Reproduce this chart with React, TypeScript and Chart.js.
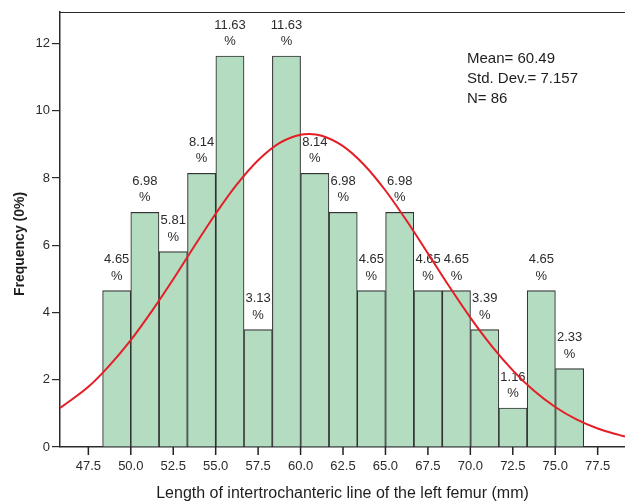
import React, { useEffect, useRef } from "react";
import { Chart, registerables } from "chart.js";

Chart.register(...registerables);

// Histogram bins (bin centres in mm) and their percentage heights
const binCenters = [49.17, 50.83, 52.5, 54.17, 55.84, 57.5, 59.17, 60.84, 62.51, 64.17, 65.84, 67.51, 69.18, 70.85, 72.51, 74.18, 75.85];
const binPercents = [4.65, 6.98, 5.81, 8.14, 11.63, 3.49, 11.63, 8.14, 6.98, 4.65, 6.98, 4.65, 4.65, 3.49, 1.16, 4.65, 2.33];
const binLabels = ["4.65", "6.98", "5.81", "8.14", "11.63", "3.13", "11.63", "8.14", "6.98", "4.65", "6.98", "4.65", "4.65", "3.39", "1.16", "4.65", "2.33"];

// Normal curve points
const curveX = [45.83, 47.5, 48.75, 50, 51.25, 52.5, 53.75, 55, 56.25, 57.5, 58.75, 60, 60.5, 61.25, 62.5, 63.75, 65, 66.25, 67.5, 68.75, 70, 71.25, 72.5, 73.75, 75, 76.25, 77.5, 78.75, 79.11];
const curveY = [1.16, 1.79, 2.43, 3.18, 4.05, 4.99, 5.98, 6.94, 7.81, 8.53, 9.04, 9.29, 9.31, 9.26, 8.95, 8.39, 7.63, 6.73, 5.76, 4.78, 3.85, 3.01, 2.28, 1.67, 1.19, 0.82, 0.55, 0.36, 0.31];

const xTickValues = [47.5, 50, 52.5, 55, 57.5, 60, 62.5, 65, 67.5, 70, 72.5, 75, 77.5];
const yTickValues = [0, 2, 4, 6, 8, 10, 12];
const xMin = 45.83;
const xMax = 79.11;
const yMin = 0;
const yMax = 12.94;

const statsLines = ["Mean= 60.49", "Std. Dev.= 7.157", "N= 86"];
const xTitle = "Length of intertrochanteric line of the left femur (mm)";
const yTitle = "Frequency (0%)";

const FONT = '"Liberation Sans", Arial, Helvetica, sans-serif';
const INK = "#2b2b2b";

const annotatePlugin = {
  id: "annotate",
  afterDatasetDraw(chart: any, args: any) {
    if (args.index !== 0) return;
    const ctx = chart.ctx;
    const xs = chart.scales.x;
    const ys = chart.scales.y;
    ctx.save();
    ctx.font = `13px ${FONT}`;
    ctx.fillStyle = INK;
    ctx.textAlign = "center";
    ctx.textBaseline = "middle";
    binCenters.forEach((c, i) => {
      const px = xs.getPixelForValue(c);
      const py = ys.getPixelForValue(binPercents[i]);
      ctx.fillText(binLabels[i], px, py - 31);
      ctx.fillText("%", px, py - 14.5);
    });
    ctx.restore();
  },
  afterDraw(chart: any) {
    const ctx = chart.ctx;
    const area = chart.chartArea;
    const xs = chart.scales.x;
    ctx.save();
    // top frame line
    ctx.strokeStyle = INK;
    ctx.lineWidth = 1.2;
    ctx.beginPath();
    ctx.moveTo(area.left, area.top + 0.5);
    ctx.lineTo(area.right, area.top + 0.5);
    ctx.stroke();

    // x tick marks
    ctx.strokeStyle = "#222222";
    ctx.lineWidth = 1.5;
    ctx.beginPath();
    xTickValues.forEach((v) => {
      const px = xs.getPixelForValue(v);
      ctx.moveTo(px, area.bottom);
      ctx.lineTo(px, area.bottom + 8);
    });
    ctx.stroke();

    // stats box text
    ctx.fillStyle = "#1e1e1e";
    ctx.font = `15px ${FONT}`;
    ctx.textAlign = "left";
    ctx.textBaseline = "alphabetic";
    statsLines.forEach((t, i) => ctx.fillText(t, 467, 63 + i * 20));

    // x title
    ctx.font = `16px ${FONT}`;
    ctx.textAlign = "center";
    ctx.fillText(xTitle, (area.left + area.right) / 2, 498);

    // y title
    ctx.translate(24, 244);
    ctx.rotate(-Math.PI / 2);
    ctx.font = `bold 14px ${FONT}`;
    ctx.fillText(yTitle, 0, 0);
    ctx.restore();
  },
};

export default function App() {
  const canvasRef = useRef<HTMLCanvasElement | null>(null);

  useEffect(() => {
    document.body.style.margin = "0";
    const canvas = canvasRef.current;
    if (!canvas) return;
    const chart = new Chart(canvas, {
      type: "bar",
      data: {
        datasets: [
          {
            type: "bar",
            data: binCenters.map((c, i) => ({ x: c, y: binPercents[i] })),
            backgroundColor: "#b3dcc1",
            borderColor: "#333333",
            borderWidth: 1.1,
            barPercentage: 1,
            categoryPercentage: 1,
            order: 1,
          } as any,
          {
            type: "line",
            data: curveX.map((x, i) => ({ x, y: curveY[i] })),
            borderColor: "#e41e26",
            borderWidth: 2,
            pointRadius: 0,
            fill: false,
            tension: 0.4,
            cubicInterpolationMode: "monotone",
            order: 0,
          } as any,
        ],
      },
      options: {
        responsive: false,
        animation: false,
        devicePixelRatio: 1,
        events: [],
        layout: { padding: { top: 12, right: 0, left: 0, bottom: 0 } },
        plugins: {
          legend: { display: false },
          tooltip: { enabled: false },
        },
        scales: {
          x: {
            type: "linear",
            min: xMin,
            max: xMax,
            offset: false,
            grid: {
              display: false,
              offset: false,
              drawOnChartArea: false,
              drawTicks: false,
            },
            border: { display: true, color: INK, width: 1.5 },
            ticks: {
              color: INK,
              font: { family: FONT, size: 13 },
              padding: 12,
              autoSkip: false,
              maxRotation: 0,
              callback: (v: any) => Number(v).toFixed(1),
            },
            afterBuildTicks: (s: any) => {
              s.ticks = xTickValues.map((v) => ({ value: v }));
            },
            afterFit: (s: any) => {
              s.height = 54;
            },
          },
          y: {
            type: "linear",
            min: yMin,
            max: yMax,
            grid: {
              display: true,
              offset: false,
              drawOnChartArea: false,
              drawTicks: true,
              tickLength: 8,
              color: INK,
              lineWidth: 1.2,
            },
            border: { display: true, color: INK, width: 1.5 },
            ticks: {
              color: INK,
              font: { family: FONT, size: 13 },
              padding: 2,
              callback: (v: any) => String(Math.round(Number(v))),
            },
            afterBuildTicks: (s: any) => {
              s.ticks = yTickValues.map((v) => ({ value: v }));
            },
            afterFit: (s: any) => {
              s.width = 60;
            },
          },
        },
      } as any,
      plugins: [annotatePlugin],
    });
    return () => chart.destroy();
  }, []);

  return (
    <div style={{ width: 625, height: 501, background: "#fff" }}>
      <canvas ref={canvasRef} width={625} height={501} style={{ display: "block" }} />
    </div>
  );
}
